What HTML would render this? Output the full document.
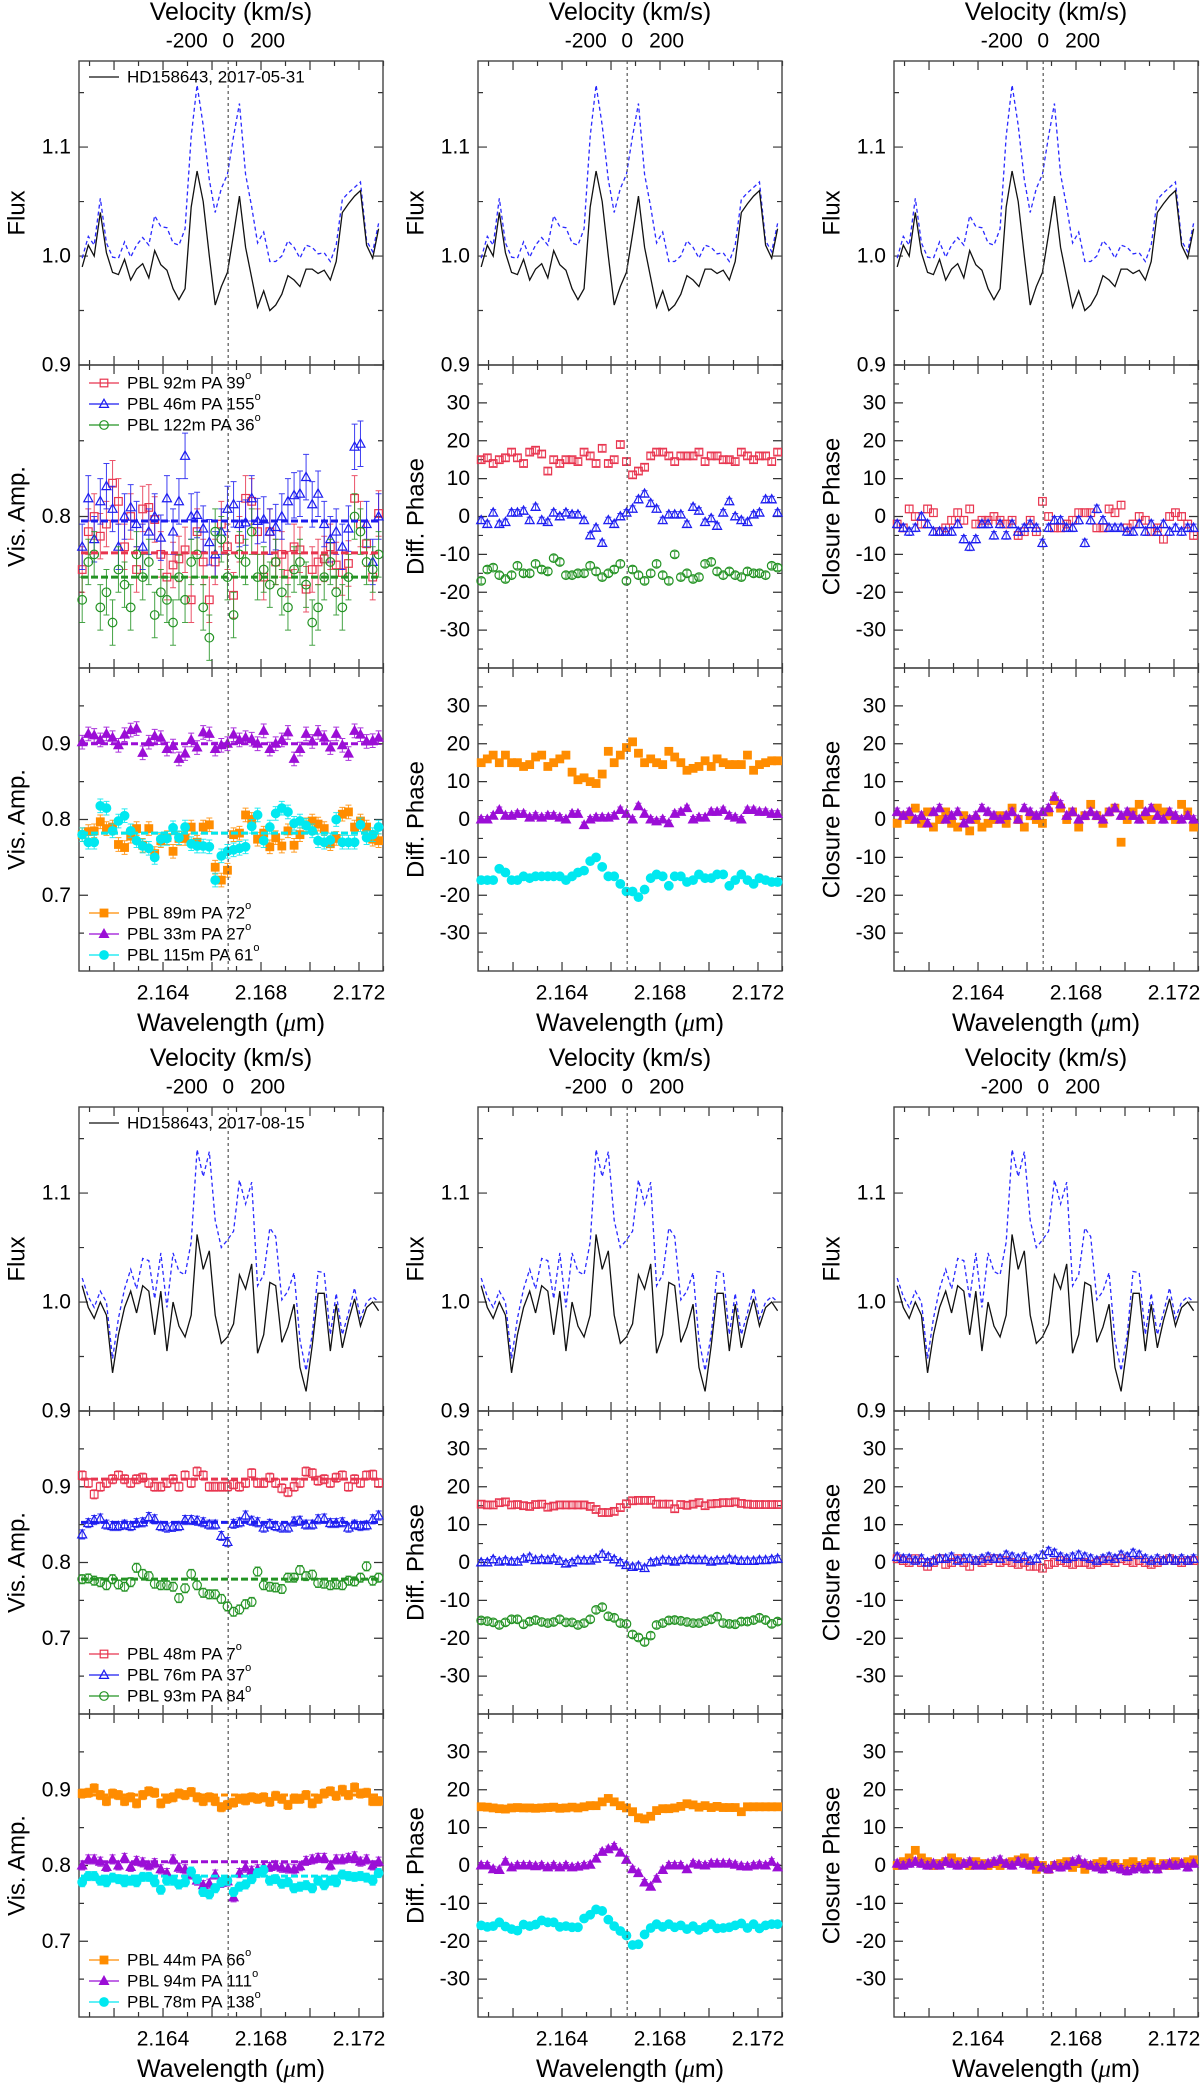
<!DOCTYPE html>
<html><head><meta charset="utf-8"><title>HD158643 interferometry</title>
<style>
html,body{margin:0;padding:0;background:#fff;}
svg{display:block;font-family:"Liberation Sans",Arial,sans-serif;}
</style></head>
<body>
<svg id="fig" width="1200" height="2084" viewBox="0 0 1200 2084" xmlns="http://www.w3.org/2000/svg"></svg>
<script>
// ---------- data ----------
const WL=[2.16070,2.16095,2.16119,2.16144,2.16169,2.16194,2.16218,2.16243,2.16268,2.16292,
2.16317,2.16342,2.16366,2.16391,2.16416,2.16441,2.16465,2.16490,2.16515,2.16539,
2.16564,2.16589,2.16613,2.16638,2.16663,2.16688,2.16712,2.16737,2.16762,2.16786,
2.16811,2.16836,2.16860,2.16885,2.16910,2.16935,2.16959,2.16984,2.17009,2.17033,
2.17058,2.17083,2.17107,2.17132,2.17157,2.17182,2.17206,2.17231,2.17256,2.17280];
const WL_TICK_LABELS=["2.164","2.168","2.172"];
const LINE_CENTER=2.16666;
const VEL_TICK_LABELS=["-200","0","200"];

// group 1 (2017-05-31)
const g1FluxObs=[0.990,1.010,1.000,1.040,1.003,0.985,0.983,0.997,0.978,0.988,0.993,0.980,1.005,0.992,0.987,0.970,0.960,0.970,1.045,1.078,1.050,1.000,0.955,0.972,0.985,1.020,1.055,1.008,0.980,0.953,0.968,0.950,0.955,0.965,0.982,0.978,0.972,0.988,0.988,0.984,0.987,0.978,0.995,1.040,1.048,1.055,1.060,1.010,0.998,1.025];
const g1FluxCorr=[0.998,1.018,1.010,1.053,1.012,0.999,0.998,1.013,0.999,1.010,1.017,1.010,1.037,1.027,1.026,1.012,1.010,1.025,1.110,1.157,1.120,1.070,1.040,1.062,1.075,1.110,1.140,1.075,1.045,1.012,1.022,0.995,0.995,1.000,1.014,1.008,0.998,1.010,1.008,1.002,1.003,0.995,1.010,1.052,1.058,1.063,1.068,1.014,1.004,1.030];
const g1VisRed=[0.765,0.790,0.800,0.787,0.795,0.822,0.810,0.780,0.800,0.765,0.805,0.806,0.798,0.775,0.760,0.768,0.772,0.778,0.745,0.790,0.770,0.745,0.770,0.795,0.780,0.748,0.785,0.812,0.810,0.790,0.760,0.790,0.770,0.775,0.762,0.780,0.778,0.752,0.765,0.770,0.772,0.780,0.768,0.763,0.769,0.812,0.795,0.782,0.760,0.802];
const g1VisBlue=[0.780,0.812,0.785,0.810,0.820,0.805,0.780,0.800,0.806,0.795,0.780,0.790,0.800,0.786,0.812,0.790,0.810,0.840,0.800,0.801,0.792,0.783,0.775,0.790,0.805,0.808,0.795,0.796,0.812,0.797,0.798,0.790,0.793,0.800,0.810,0.814,0.815,0.826,0.808,0.815,0.795,0.785,0.790,0.780,0.792,0.846,0.848,0.795,0.770,0.800];
const g1VisGreen=[0.745,0.770,0.775,0.740,0.750,0.730,0.765,0.755,0.740,0.775,0.760,0.770,0.735,0.750,0.745,0.730,0.760,0.745,0.770,0.775,0.740,0.720,0.790,0.785,0.760,0.735,0.775,0.770,0.790,0.760,0.765,0.755,0.770,0.750,0.740,0.765,0.770,0.755,0.730,0.740,0.760,0.770,0.750,0.740,0.760,0.800,0.790,0.770,0.765,0.775];
const g1VisOrange=[0.780,0.784,0.785,0.797,0.788,0.790,0.767,0.763,0.778,0.788,0.766,0.788,0.755,0.772,0.776,0.758,0.775,0.775,0.790,0.770,0.790,0.793,0.737,0.720,0.733,0.780,0.782,0.806,0.800,0.774,0.782,0.764,0.776,0.765,0.785,0.766,0.780,0.793,0.798,0.794,0.788,0.768,0.775,0.807,0.810,0.790,0.798,0.790,0.774,0.772];
const g1VisPurple=[0.902,0.913,0.911,0.905,0.913,0.908,0.898,0.912,0.918,0.920,0.888,0.902,0.910,0.908,0.893,0.897,0.880,0.887,0.905,0.895,0.915,0.913,0.893,0.898,0.900,0.912,0.905,0.908,0.906,0.900,0.917,0.893,0.900,0.905,0.915,0.880,0.893,0.913,0.903,0.915,0.908,0.895,0.913,0.898,0.887,0.917,0.912,0.903,0.904,0.908];
const g1VisCyan=[0.780,0.770,0.770,0.818,0.815,0.785,0.798,0.805,0.785,0.772,0.765,0.762,0.750,0.774,0.775,0.789,0.776,0.790,0.768,0.765,0.765,0.764,0.720,0.752,0.758,0.760,0.762,0.764,0.791,0.806,0.772,0.790,0.808,0.815,0.810,0.795,0.798,0.792,0.785,0.772,0.770,0.773,0.800,0.770,0.770,0.770,0.793,0.776,0.780,0.790];
const g1DpRed=[15,15.5,14,15,15.5,17,15.5,14,17,17.5,16.5,12,15,14,15,15,14.5,17,16,14,18,14,15,19,14.5,11,12,13,16,17,17,16,14.5,16,16,16,17,14.5,16,16,15,15,14.5,17,16,15,16,16,14.5,17];
const g1DpBlue=[-1,-2,1,-2,-1.5,1,1,1.5,-1,2.5,-1,-1.5,1,0,1,0.5,0.5,-1,-5,-3,-7,-1,-2,0,1,2,4.5,6,3.5,2,-1,0.5,0.5,0.5,-2,2.5,1.5,-1.5,-0.5,-2.5,1,4,0,-1,-1.5,0.5,1,4.5,4.5,1];
const g1DpGreen=[-17,-14,-13.5,-15.5,-16.5,-15.5,-13,-15,-15,-12.5,-14,-14.5,-11,-12,-15.5,-15.5,-15,-15,-13,-14.5,-16,-15,-14,-12.5,-17,-14,-15.5,-17,-15,-12.5,-15.5,-17,-10,-16,-15,-16.5,-16,-12.5,-12,-14.5,-15.5,-14.5,-15.5,-16,-14.5,-15,-15,-15.5,-13,-13.5];
const g1DpOrange=[15,16,17,15,17,15,15,14,14.5,16.5,17,14,15,16,17,12.5,10.5,11,10,9.5,12,18,15,17,19,20.5,17.5,15,16,15,14.5,18,16.5,15,13,13.5,14,15.5,14,16,15,14.5,14.5,14.5,17,13,14.5,15,15.5,15.5];
const g1DpPurple=[0,0,1,2.5,1,1,1.5,1.5,0.5,1,0.5,1,1,0.5,0,1.5,1.5,-1.5,0,0.5,0.5,0.5,1,2.5,1.5,0,3.5,1.5,0,-0.5,0,-1,1.5,2,3,0,0.5,0.5,2,2,2.5,1,0.5,0,2.5,2.5,2,2,1.5,1.5];
const g1DpCyan=[-16,-16,-16,-13,-14,-16,-16,-15,-15.5,-15,-15,-15,-15,-15,-16,-15,-14,-13.5,-11,-10,-12.5,-15,-15,-17,-19,-19,-20.5,-18.5,-15.5,-14.5,-15,-17.5,-15,-15,-16.5,-16,-14.5,-15.5,-15.5,-14.5,-14.5,-17.5,-16,-14.5,-16,-17,-15.5,-16,-16.5,-16.5];
const g1CpRed=[-2,-3,2,0,-2,2,1,-4,-3,-1,1,-1,2,-2,-1,-1,0,-1,-2,-1,-5,-4,-1,-4,4,0,-3,-3,-2,-1,1,1,1,-3,-3,2,1,3,-3,-2,0,-1,-4,-3,-6,0,1,0,-2,-5];
const g1CpBlue=[-2,-3,-4,-3,0,-2,-4,-4,-4,-4,-2,-6,-8,-6,-2,-2,-5,-2,-5,-2,-4,-3,-2,-3,-7,-3,-1,-1,-3,-3,-1,-7,-1,2,-1,-3,-3,-3,-4,-4,-2,-4,-2,-4,-2,-4,-3,-4,-3,-3];
const g1CpOrange=[-1,1,0,3,-1,2,-2,0,2,-1,-2,1,-3,0,-2,-1,0,1,-1,3,0,-2,1,0,-1,2,5,3,0,2,-2,1,4,1,-1,2,3,-6,0,2,4,1,0,3,2,1,0,4,2,-2];
const g1CpPurple=[2,1,2,0,1,-1,2,3,0,1,2,-1,0,1,3,2,1,0,1,2,0,3,2,1,2,3,6,4,1,2,0,1,2,1,0,2,3,1,2,1,0,2,3,1,0,2,1,0,1,0];

// group 2 (2017-08-15)
const g2FluxObs=[1.015,0.995,0.985,1.000,0.988,0.935,0.970,0.995,1.010,0.990,1.015,1.010,0.970,1.010,0.955,1.000,0.978,0.968,0.988,1.062,1.030,1.047,0.988,0.962,0.968,0.980,1.025,1.012,1.035,0.953,0.970,1.018,1.015,0.963,0.977,0.998,0.940,0.918,0.960,1.008,1.008,0.955,0.998,0.958,0.983,1.003,0.978,0.995,1.000,0.992];
const g2FluxCorr=[1.022,1.005,0.995,1.010,1.000,0.948,0.985,1.012,1.030,1.012,1.040,1.038,1.003,1.045,0.995,1.045,1.028,1.025,1.055,1.140,1.115,1.138,1.075,1.050,1.057,1.065,1.112,1.090,1.110,1.015,1.025,1.068,1.060,1.002,1.010,1.027,0.965,0.937,0.970,1.028,1.027,0.970,1.008,0.970,0.990,1.013,0.985,1.000,1.005,1.000];
const g2VisRed=[0.915,0.905,0.890,0.900,0.905,0.910,0.915,0.910,0.905,0.910,0.912,0.905,0.900,0.900,0.905,0.910,0.900,0.915,0.905,0.920,0.915,0.900,0.900,0.900,0.900,0.903,0.900,0.905,0.918,0.905,0.905,0.912,0.905,0.898,0.893,0.900,0.905,0.920,0.918,0.908,0.910,0.905,0.912,0.915,0.900,0.910,0.905,0.915,0.916,0.905];
const g2VisBlue=[0.837,0.852,0.856,0.858,0.850,0.848,0.848,0.850,0.848,0.852,0.853,0.860,0.857,0.848,0.846,0.847,0.848,0.856,0.856,0.855,0.853,0.850,0.850,0.835,0.827,0.851,0.853,0.862,0.855,0.853,0.846,0.851,0.848,0.846,0.846,0.854,0.855,0.850,0.850,0.857,0.858,0.852,0.852,0.853,0.846,0.850,0.848,0.849,0.857,0.862];
const g2VisGreen=[0.778,0.779,0.776,0.774,0.770,0.778,0.771,0.768,0.774,0.793,0.785,0.782,0.772,0.770,0.770,0.768,0.753,0.766,0.785,0.770,0.760,0.758,0.758,0.752,0.742,0.735,0.738,0.745,0.748,0.788,0.770,0.768,0.767,0.765,0.780,0.780,0.790,0.782,0.784,0.773,0.772,0.770,0.771,0.770,0.776,0.775,0.780,0.795,0.776,0.780];
const g2VisOrange=[0.895,0.896,0.902,0.893,0.885,0.895,0.893,0.885,0.890,0.882,0.893,0.898,0.896,0.882,0.888,0.890,0.895,0.893,0.897,0.890,0.885,0.890,0.885,0.877,0.880,0.883,0.888,0.886,0.890,0.888,0.890,0.884,0.892,0.888,0.880,0.888,0.888,0.893,0.882,0.888,0.895,0.898,0.892,0.900,0.893,0.903,0.895,0.896,0.885,0.885];
const g2VisPurple=[0.800,0.808,0.808,0.805,0.798,0.808,0.800,0.810,0.798,0.806,0.804,0.800,0.803,0.795,0.790,0.808,0.797,0.795,0.788,0.780,0.774,0.776,0.788,0.777,0.779,0.758,0.790,0.797,0.793,0.795,0.798,0.798,0.800,0.797,0.796,0.795,0.799,0.806,0.808,0.810,0.810,0.800,0.808,0.808,0.810,0.812,0.805,0.808,0.800,0.805];
const g2VisCyan=[0.778,0.786,0.786,0.780,0.778,0.784,0.782,0.778,0.780,0.778,0.785,0.785,0.778,0.768,0.780,0.780,0.775,0.778,0.792,0.782,0.765,0.762,0.770,0.778,0.780,0.765,0.772,0.775,0.782,0.790,0.794,0.780,0.782,0.776,0.778,0.770,0.772,0.774,0.770,0.780,0.774,0.780,0.778,0.788,0.786,0.785,0.786,0.784,0.780,0.790];
const g2DpRed=[15.4,15.2,15.2,15.8,16,15.2,15.3,15,14.8,15.3,15.4,14.6,14.9,15.2,15.2,15.2,15.2,15.2,14.8,14,13.2,13.2,13.5,14.5,15.5,16.3,16.4,16.4,16.4,15.4,15.4,15.4,14.2,15.3,15.1,15.4,15.8,15,15.5,15.6,15.8,15.8,16,15.6,15.4,15.3,15.3,15.3,15.3,15.3];
const g2DpBlue=[0,0,0.8,0.2,0.5,0.2,0.2,1,1.4,0.6,0.8,0.6,1,0.4,-0.3,0,0.6,0.5,0.5,1,2.2,1.5,0.8,0,-0.7,-1.2,-0.9,-1.5,0,0.2,0.6,0.5,0.2,0.6,0.8,0.6,0.6,0.6,0.2,0.5,0.5,0.9,0.6,0.4,0.4,0.4,0.6,0.6,0.8,1];
const g2DpGreen=[-15.3,-15.5,-15.8,-16.5,-15.8,-15,-15,-16.3,-15.6,-15.2,-15.7,-16,-15.7,-15,-15.8,-15.8,-16.5,-16,-15,-12.5,-11.8,-14.2,-14.6,-16,-16.2,-19,-19.8,-21,-19.3,-16.5,-16,-15.3,-15.2,-15.4,-15.7,-16,-16,-15.5,-15,-14.3,-16,-16.2,-16.3,-15.6,-15.6,-15.2,-14.6,-15.2,-16.2,-15.6];
const g2DpOrange=[15.5,15.4,15.2,15,14.9,15.2,15.3,15.2,15.2,15.1,15.2,15.3,15.4,15.1,15.2,15.4,15.2,15.5,15.8,15.8,16.8,17.7,16.8,15.8,15.2,14.2,12.6,12.3,13,14.5,15,15,15.2,15.6,16.3,16,15.4,15.8,15.3,15.6,15.3,15.3,15.3,14.2,15.5,15.5,15.5,15.5,15.5,15.5];
const g2DpPurple=[0,0,-1,-1.2,1,-0.5,0,0,0,-0.2,0,-0.5,0,-0.5,0,-0.5,-0.3,0,0.2,1.8,3.6,4.3,5,3.4,1.5,-1,-2,-4.5,-5.6,-3.5,-1.2,0,0,0,-1,0.5,0.2,0,0.5,0.5,0.5,0.5,0.2,-0.2,-0.3,0,0.2,0,1,-0.5];
const g2DpCyan=[-15.8,-16.2,-16,-15,-16.1,-16.8,-17.2,-15.6,-16,-15.6,-14.5,-15,-15,-16.2,-16,-16.3,-16.3,-14,-13,-11.6,-12,-14.3,-16,-17.3,-18.5,-21,-20.8,-18.2,-16.5,-15.5,-16.2,-15.5,-16.3,-15.8,-16.8,-16,-17,-16.3,-15.5,-16.6,-16.5,-16.3,-15.8,-15.3,-16.5,-15.5,-16.6,-15.8,-15.5,-15.5];
const g2CpRed=[1,0.5,0,1,0,-1,0,1,-0.5,0,1,0,-1,0.5,0,0.5,1,0,0.5,0,-0.5,0,-1,-1,-1.5,-0.5,0,0.5,0,-0.5,0,0,-0.5,0,0.5,0.5,0,1,0.5,0,0.5,0,-0.5,0,0.5,1,0.5,0,0.5,0.5];
const g2CpBlue=[1.5,1,1,0.5,1,0,0.5,1,1,1.5,0.5,1,1,0.5,1,1.5,1,1,2,1.5,1,1.5,0.5,1,2,3,2.5,1.5,1,1.5,2,1.5,1,0.5,1,1.5,1,2,1.5,2.5,2,1,0.5,1,0.5,1,0.5,1,0.5,1];
const g2CpOrange=[0,1,2,4,2,1,0,0.5,1,2,1,0.5,0,1,0.5,0,0.5,0,0.5,1,1.5,2,1,-1,0,-1,0,0.5,1,-0.5,0.5,-1,0,0.5,1,0,0.5,-0.5,0.5,1,0,0.5,1,-0.5,0.5,0,1,0.5,1,1.5];
const g2CpPurple=[0.5,0,0.5,1,0.5,0,0.5,0,1,0.5,0,0.5,1,0,0,0.5,1,1.5,0.5,0,1,0.5,0,1,-0.5,-1,0,-0.5,0,1,1.5,0.5,0,-0.5,-1,0,-0.5,-1,-1.5,-1,-0.5,-1,0,-1,0,0.5,0,0.5,-0.5,0.5];

// mean visibility levels
const g1VisMeans=[0.776,0.797,0.760];
const g1VisMeans2=[0.782,0.900,0.782];
const g2VisMeans=[0.910,0.853,0.778];
const g2VisMeans2=[0.893,0.805,0.786];

// legend texts
const g1Legend1=["PBL 92m PA 39","PBL 46m PA 155","PBL 122m PA 36"];
const g1Legend2=["PBL 89m PA 72","PBL 33m PA 27","PBL 115m PA 61"];
const g2Legend1=["PBL 48m PA 7","PBL 76m PA 37","PBL 93m PA 84"];
const g2Legend2=["PBL 44m PA 66","PBL 94m PA 111","PBL 78m PA 138"];
const DATES=["HD158643, 2017-05-31","HD158643, 2017-08-15"];

// ---------- drawing ----------
const NS="http://www.w3.org/2000/svg";
const svg=document.getElementById('fig');
function mk(tag,attrs,parent){const e=document.createElementNS(NS,tag);for(const k in attrs)e.setAttribute(k,attrs[k]);(parent||svg).appendChild(e);return e;}
const COLL=[79,478,894], PW=304, PANEL_TOPS=[61,365,668], PANEL_BOT=971;
const WLMIN=2.16057, WLMAX=2.17298;
const C={red:'#e8354f',blue:'#1c1cf0',green:'#249324',orange:'#ff8c00',purple:'#9b0ed6',cyan:'#00e8f0'};
function xs(col,l){return COLL[col]+(l-WLMIN)/(WLMAX-WLMIN)*PW;}
function yScale(top,h,min,max){return v=>top+(max-v)/(max-min)*h;}

function marker(g,type,color,x,y){
  let e;
  const fillCol=(type.startsWith('f'))?color:'none';
  if(type.endsWith('sq')){e=mk('rect',{x:x-3.8,y:y-3.8,width:7.6,height:7.6,fill:fillCol==='none'?'none':color,stroke:color,'stroke-width':1.2},g);}
  else if(type.endsWith('tri')){e=mk('polygon',{points:`${x},${y-4.8} ${x-4.5},${y+3.4} ${x+4.5},${y+3.4}`,fill:fillCol,stroke:color,'stroke-width':1.2},g);}
  else {e=mk('circle',{cx:x,cy:y,r:4.3,fill:fillCol,stroke:color,'stroke-width':1.2},g);}
  
  
}
function series(col,ys,vals,err,type,color,name){
  const g=mk('g',{});
  
  
  const n=Math.min(vals.length,WL.length);
  for(let i=0;i<n;i++){
    const x=xs(col,WL[i]),y=ys(vals[i]);
    const y1=ys(vals[i]+err),y2=ys(vals[i]-err);
    mk('path',{d:`M${x},${y1}V${y2}M${x-3},${y1}H${x+3}M${x-3},${y2}H${x+3}`,stroke:color,'stroke-width':1,fill:'none',opacity:0.85},g);
    marker(g,type,color,x,y);
  }
}
function meanLine(col,ys,v,color,name){
  const e=mk('line',{x1:COLL[col]+2,x2:COLL[col]+PW-2,y1:ys(v),y2:ys(v),stroke:color,'stroke-width':3,'stroke-dasharray':'7,3'});
  
  
}
function txt(x,y,s,size,anchor,name,extra){
  const t=mk('text',Object.assign({x:x,y:y,'font-size':size,'text-anchor':anchor||'middle','dominant-baseline':'central',fill:'#000'},extra||{}));
  t.textContent=s;
  
  
  return t;
}
function panelFrame(col,top,h,min,max,majors,minors,labels,ytitle,name){
  const L=COLL[col],R=L+PW,B=top+h;
  const ys=yScale(top,h,min,max);
  const g=mk('g',{});
  
  
  let d='';
  for(let w=2.161;w<2.1730;w+=0.001){
    const x=xs(col,w);const major=Math.round(w*1000)%2===0;const L2=major?9:5;
    d+=`M${x},${top}v${L2}M${x},${B}v${-L2}`;
  }
  majors.forEach(v=>{const y=ys(v);d+=`M${L},${y}h9M${R},${y}h-9`;});
  minors.forEach(v=>{const y=ys(v);d+=`M${L},${y}h5M${R},${y}h-5`;});
  const tk=mk('path',{d:d,stroke:'#333','stroke-width':1.2,fill:'none'},g);
  
  
  const fr=mk('rect',{x:L,y:top,width:PW,height:h,fill:'none',stroke:'#444','stroke-width':1.4},g);
  
  
  labels.forEach(([v,s])=>txt(L-8,ys(v),s,21,'end','y-tick-label'));
  txt(L-62,top+h/2,ytitle,24,'middle','y-axis-title',{transform:`rotate(-90 ${L-62} ${top+h/2})`});
  return ys;
}
function legend(col,y0,labels,types,colors,name,sup){
  const g=mk('g',{});
  
  
  labels.forEach((s,i)=>{
    const y=y0+i*21,L=COLL[col];
    mk('line',{x1:L+10,x2:L+40,y1:y,y2:y,stroke:colors[i],'stroke-width':1.2},g);
    marker(g,types[i],colors[i],L+25,y);
    const t=txt(L+48,y,s,17,'start','legend-entry');
    if(sup!==false){const ts=mk('tspan',{dy:-7,'font-size':11},t);ts.textContent='o';}
  });
}
const FLUX=[[0.9,'0.9'],[1.0,'1.0'],[1.1,'1.1']];
const PH_MAJ=[-30,-20,-10,0,10,20,30],PH_MIN=[-35,-25,-15,-5,5,15,25,35];
const PH_LAB=PH_MAJ.map(v=>[v,String(v)]);
const VIS_LAB=[[0.9,'0.9'],[0.8,'0.8'],[0.7,'0.7']];

const groups=[
 {off:0,flux:[g1FluxObs,g1FluxCorr],vis1:[g1VisRed,g1VisBlue,g1VisGreen],vis2:[g1VisOrange,g1VisPurple,g1VisCyan],
  dp1:[g1DpRed,g1DpBlue,g1DpGreen],dp2:[g1DpOrange,g1DpPurple,g1DpCyan],cp1:[g1CpRed,g1CpBlue],cp2:[g1CpOrange,g1CpPurple],
  m1:g1VisMeans,m2:g1VisMeans2,leg1:g1Legend1,leg2:g1Legend2,vis1Range:[0.7,0.9],err1:0.015,err2:0.009,
  leg1y:383,leg2y:913},
 {off:1046,flux:[g2FluxObs,g2FluxCorr],vis1:[g2VisRed,g2VisBlue,g2VisGreen],vis2:[g2VisOrange,g2VisPurple,g2VisCyan],
  dp1:[g2DpRed,g2DpBlue,g2DpGreen],dp2:[g2DpOrange,g2DpPurple,g2DpCyan],cp1:[g2CpRed,g2CpBlue],cp2:[g2CpOrange,g2CpPurple],
  m1:g2VisMeans,m2:g2VisMeans2,leg1:g2Legend1,leg2:g2Legend2,vis1Range:[0.6,1.0],err1:0.006,err2:0.006,
  leg1y:1654-1046,leg2y:1960-1046}
];
const T1=['osq','otri','ocirc'],C1=[C.red,C.blue,C.green];
const T2=['fsq','ftri','fcirc'],C2=[C.orange,C.purple,C.cyan];
const YT=[["Flux","Vis. Amp.","Vis. Amp."],["Flux","Diff. Phase","Diff. Phase"],["Flux","Closure Phase","Closure Phase"]];

groups.forEach((G,gi)=>{
  const o=G.off;
  for(let col=0;col<3;col++){
    const cx=COLL[col]+PW/2;
    // velocity axis title
    txt(cx,12+o,'Velocity (km/s)',25,'middle','velocity-axis-title');
    const vx=xs(col,LINE_CENTER), dv=LINE_CENTER*200/299792;
    [ -dv,0,dv ].forEach((d,k)=>txt(xs(col,LINE_CENTER+d)+(k===0?-6:(k===2?4:0)),41+o,VEL_TICK_LABELS[k],21,'middle','velocity-tick-label'));
    // flux panel
    const fy=panelFrame(col,PANEL_TOPS[0]+o,PANEL_TOPS[1]-PANEL_TOPS[0],0.9,1.179,[0.9,1.0,1.1],[0.95,1.05,1.15],FLUX,'Flux','flux-panel');
    const mkLine=(vals,color,dash,name)=>{
      let d='';vals.forEach((v,i)=>{d+=(i?'L':'M')+xs(col,WL[i])+','+fy(v);});
      const p=mk('path',{d:d,fill:'none',stroke:color,'stroke-width':1.3,'stroke-dasharray':dash});
      
      
    };
    mkLine(G.flux[1],'#2a2aff','4,3','flux-continuum-corrected-line');
    mkLine(G.flux[0],'#111','none','flux-observed-line');
    if(col===0){
      const L=COLL[0],y=77+o;
      const ln=mk('line',{x1:L+10,x2:L+40,y1:y,y2:y,stroke:'#111','stroke-width':1.3});
      
      
      txt(L+48,y,DATES[gi],17,'start','legend-entry');
    }
    // panel 2 & 3
    const h2=PANEL_TOPS[2]-PANEL_TOPS[1], h3=PANEL_BOT-PANEL_TOPS[2];
    if(col===0){
      const r=G.vis1Range;
      const maj=r[0]===0.7?[0.8]:[0.7,0.8,0.9], mino=r[0]===0.7?[0.75,0.85]:[0.65,0.75,0.85,0.95];
      const lab=r[0]===0.7?[[0.8,'0.8']]:VIS_LAB;
      const y2=panelFrame(0,PANEL_TOPS[1]+o,h2,r[0],r[1],maj,mino,lab,YT[0][1],'vis-amp-panel-1');
      G.vis1.forEach((v,k)=>series(0,y2,v,G.err1,T1[k],C1[k],'vis-series-'+k));
      G.m1.forEach((m,k)=>meanLine(0,y2,m,C1[k],'vis-mean-line'));
      legend(0,G.leg1y+o,G.leg1,T1,C1,'vis-legend-1');
      const y3=panelFrame(0,PANEL_TOPS[2]+o,h3,0.6,1.0,[0.7,0.8,0.9],[0.65,0.75,0.85,0.95],VIS_LAB,YT[0][2],'vis-amp-panel-2');
      G.vis2.forEach((v,k)=>series(0,y3,v,G.err2,T2[k],C2[k],'vis-series-b'+k));
      G.m2.forEach((m,k)=>meanLine(0,y3,m,C2[k],'vis-mean-line'));
      legend(0,G.leg2y+o,G.leg2,T2,C2,'vis-legend-2');
    } else if(col===1){
      const y2=panelFrame(1,PANEL_TOPS[1]+o,h2,-40,40,PH_MAJ,PH_MIN,PH_LAB,YT[1][1],'diff-phase-panel-1');
      G.dp1.forEach((v,k)=>series(1,y2,v,0.8,T1[k],C1[k],'dphase-series-'+k));
      const y3=panelFrame(1,PANEL_TOPS[2]+o,h3,-40,40,PH_MAJ,PH_MIN,PH_LAB,YT[1][2],'diff-phase-panel-2');
      G.dp2.forEach((v,k)=>series(1,y3,v,0.8,T2[k],C2[k],'dphase-series-b'+k));
    } else {
      const y2=panelFrame(2,PANEL_TOPS[1]+o,h2,-40,40,PH_MAJ,PH_MIN,PH_LAB,YT[2][1],'closure-phase-panel-1');
      G.cp1.forEach((v,k)=>series(2,y2,v,1.0,T1[k],C1[k],'cphase-series-'+k));
      const y3=panelFrame(2,PANEL_TOPS[2]+o,h3,-40,40,PH_MAJ,PH_MIN,PH_LAB,YT[2][2],'closure-phase-panel-2');
      G.cp2.forEach((v,k)=>series(2,y3,v,1.0,T2[k],C2[k],'cphase-series-b'+k));
    }
    // vertical line-centre marker
    const vl=mk('line',{x1:vx,x2:vx,y1:PANEL_TOPS[0]+o,y2:PANEL_BOT+o,stroke:'#555','stroke-width':1.2,'stroke-dasharray':'3,3'});
    
    
    // wavelength ticks and title
    [2.164,2.168,2.172].forEach((w,k)=>txt(xs(col,w),993+o,WL_TICK_LABELS[k],21,'middle','x-tick-label'));
    const wt=txt(cx,1023+o,'Wavelength (',25,'middle','x-axis-title');
    const mu=mk('tspan',{'font-style':'italic','font-family':'"Liberation Serif",serif'},wt);mu.textContent='μ';
    const rest=mk('tspan',{},wt);rest.textContent='m)';
  }
});
</script>
</body></html>
